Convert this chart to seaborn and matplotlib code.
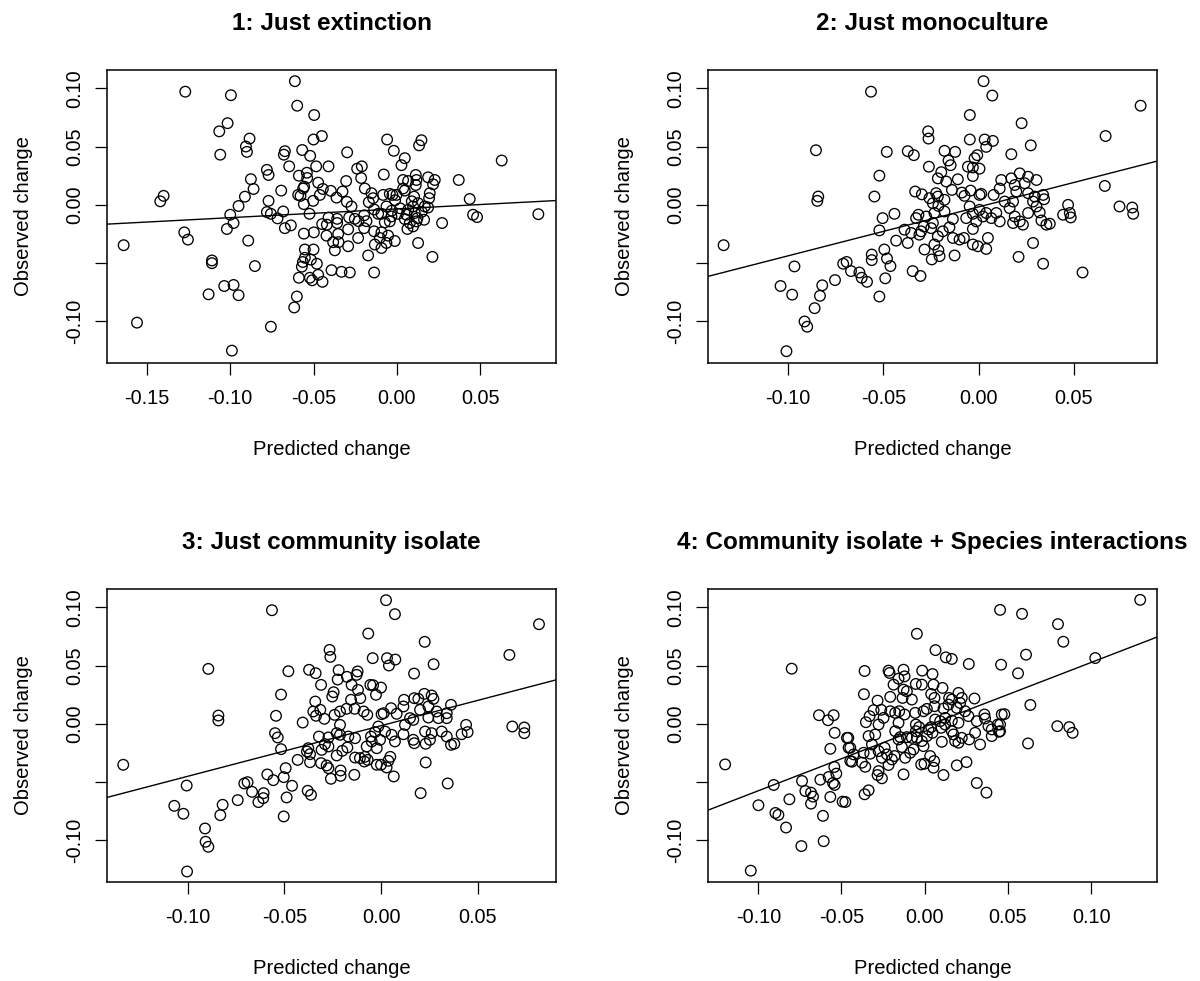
import matplotlib
matplotlib.use("Agg")
import matplotlib.pyplot as plt
import seaborn as sns
import pandas as pd

# ---------------- data ----------------
titles = ["1: Just extinction", "2: Just monoculture",
          "3: Just community isolate", "4: Community isolate + Species interactions"]
x_label = "Predicted change"
y_label = "Observed change"

p1 = [(-0.127, 0.097), (-0.0996, 0.094), (-0.1016, 0.070), (-0.1066, 0.063), (-0.106, 0.043),
      (-0.140, 0.0077), (-0.142, 0.003), (-0.095, -0.001), (-0.100, -0.0085), (-0.098, -0.0156),
      (-0.102, -0.0207), (-0.1276, -0.0236), (-0.1254, -0.0298), (-0.164, -0.0346), (-0.111, -0.0477),
      (-0.111, -0.050), (-0.1036, -0.0696), (-0.098, -0.0687), (-0.113, -0.0767), (-0.095, -0.0775),
      (-0.156, -0.101), (-0.099, -0.125),
      (-0.0612, 0.106), (-0.0598, 0.085), (-0.0496, 0.077), (-0.0884, 0.0568), (-0.0906, 0.050),
      (-0.090, 0.0454), (-0.050, 0.056), (-0.045, 0.059), (-0.0672, 0.046), (-0.0678, 0.043),
      (-0.0568, 0.047), (-0.052, 0.042), (-0.0298, 0.045), (-0.0646, 0.033), (-0.078, 0.030),
      (-0.077, 0.0256), (-0.0484, 0.033), (-0.041, 0.033), (-0.0238, 0.031), (-0.021, 0.033),
      (-0.0214, 0.023), (-0.0588, 0.025), (-0.054, 0.0275), (-0.0538, 0.023), (-0.0876, 0.022),
      (-0.0304, 0.0204), (-0.0472, 0.019), (-0.0556, 0.0156), (-0.086, 0.0136), (-0.0694, 0.0122),
      (-0.0562, 0.014), (-0.0444, 0.0136), (-0.0396, 0.012), (-0.0326, 0.0114), (-0.0192, 0.014),
      (-0.0912, 0.007), (-0.0592, 0.0085), (-0.0578, 0.0077), (-0.0462, 0.0085), (-0.0502, 0.0034),
      (-0.0558, 0.0006), (-0.0362, 0.0062), (-0.077, 0.0034), (-0.030, 0.0026), (-0.0152, 0.010),
      (-0.0142, 0.0057), (-0.0168, 0.0023), (-0.0272, -0.0014), (-0.078, -0.0062), (-0.0756, -0.0077),
      (-0.0716, -0.0116), (-0.0682, -0.0057), (-0.0524, -0.0077), (-0.0672, -0.020), (-0.0636, -0.0176),
      (-0.0448, -0.0165), (-0.042, -0.017), (-0.041, -0.011), (-0.0358, -0.012), (-0.0358, -0.0156),
      (-0.0286, -0.0108), (-0.0252, -0.012), (-0.023, -0.014), (-0.0196, -0.009), (-0.0182, -0.014),
      (-0.0136, -0.004), (-0.0112, -0.0077), (-0.0292, -0.021), (-0.0196, -0.020), (-0.0498, -0.0236),
      (-0.0558, -0.0247), (-0.0422, -0.0264), (-0.0352, -0.025), (-0.0382, -0.032), (-0.035, -0.032),
      (-0.0372, -0.039), (-0.0292, -0.0355), (-0.0232, -0.0284), (-0.0136, -0.0227), (-0.0132, -0.034),
      (-0.0172, -0.0434), (-0.0892, -0.0307), (-0.0852, -0.0525), (-0.0552, -0.0383), (-0.050, -0.0383),
      (-0.0552, -0.0454), (-0.0564, -0.049), (-0.0516, -0.047), (-0.048, -0.0505), (-0.057, -0.053),
      (-0.0588, -0.0625), (-0.0522, -0.0625), (-0.0508, -0.0647), (-0.0472, -0.060), (-0.0446, -0.066),
      (-0.0392, -0.056), (-0.0332, -0.0574), (-0.0282, -0.058), (-0.0136, -0.058), (-0.060, -0.0786),
      (-0.0616, -0.088), (-0.0756, -0.1045),
      (-0.0058, 0.056), (0.0148, 0.0554), (0.0134, 0.051), (-0.0018, 0.0463), (0.0048, 0.040),
      (0.0028, 0.034), (0.063, 0.038), (-0.0078, 0.026), (0.0038, 0.0213), (0.0068, 0.0204),
      (0.0114, 0.0256), (0.0118, 0.0213), (0.0188, 0.0236), (0.0228, 0.0213), (0.0218, 0.0176),
      (0.0372, 0.0213), (0.0114, 0.017), (0.0038, 0.014), (0.0048, 0.0122), (-0.0042, 0.0094),
      (-0.0026, 0.0085), (-0.0002, 0.0085), (-0.0082, 0.0085), (0.0198, 0.010), (0.0194, 0.0057),
      (0.0104, 0.007), (0.0438, 0.005), (0.0188, -0.0023), (0.0168, -0.0014), (0.0128, 0.0014),
      (0.0098, -0.0014), (0.0068, -0.0043), (-0.0062, -0.0014), (-0.0092, -0.0077), (-0.0032, -0.010),
      (0.0008, -0.0077), (0.0058, -0.0085), (0.0048, -0.0122), (0.0108, -0.007), (0.0124, -0.0114),
      (0.0164, -0.0128), (0.0078, -0.0156), (0.0098, -0.0185), (0.0064, -0.0207), (0.0118, -0.0142),
      (-0.0042, -0.0142), (-0.0072, -0.015), (0.0458, -0.0085), (0.0482, -0.0105), (0.0272, -0.0156),
      (-0.0092, -0.0236), (-0.0102, -0.0284), (-0.0052, -0.0264), (-0.0012, -0.031), (-0.0062, -0.0327),
      (-0.0092, -0.037), (0.0128, -0.0327), (0.0214, -0.0446), (0.085, -0.008),
      (-0.0030, -0.0050), (0.0020, -0.0030), (0.0150, -0.0060), (-0.0010, 0.0040), (0.0090, 0.0030)]

p2 = [(-0.0854, 0.0468), (-0.0842, 0.0071), (-0.0847, 0.0034), (-0.1339, -0.0346), (-0.0967, -0.0528),
      (-0.0711, -0.0505), (-0.0693, -0.049), (-0.0754, -0.0645), (-0.0821, -0.069),
      (-0.104, -0.0696), (-0.0979, -0.077), (-0.0833, -0.078), (-0.0861, -0.0886), (-0.0914, -0.100),
      (-0.090, -0.1045), (-0.1009, -0.1255),
      (0.0026, 0.106), (0.0072, 0.0937), (-0.0565, 0.097), (-0.0046, 0.077), (-0.0265, 0.063),
      (-0.0263, 0.0568), (-0.0046, 0.056), (0.0032, 0.056), (0.0075, 0.0548), (0.004, 0.0497),
      (-0.0482, 0.0454), (-0.0372, 0.046), (-0.034, 0.0426), (-0.0179, 0.0463), (-0.0123, 0.0454),
      (-0.0007, 0.0426), (-0.0021, 0.040), (-0.0158, 0.038), (-0.0147, 0.034), (-0.0261, 0.0327),
      (-0.0056, 0.0327), (-0.003, 0.032), (0.0005, 0.031), (-0.0521, 0.025), (-0.0196, 0.028),
      (-0.0214, 0.0227), (-0.0109, 0.0219), (-0.003, 0.0247), (-0.017, 0.020), (0.0119, 0.0213),
      (-0.0547, 0.0071), (-0.0333, 0.0114), (-0.0298, 0.009), (-0.0223, 0.010), (-0.0214, 0.0071),
      (-0.014, 0.0128), (-0.0088, 0.0105), (-0.0074, 0.0077), (-0.0042, 0.0122), (0.0005, 0.0085),
      (0.0014, 0.0094), (0.0079, 0.0085), (0.0111, 0.014), (-0.0258, 0.0057), (-0.024, 0.0014),
      (-0.0179, 0.0043), (-0.0211, -0.0009), (-0.0442, -0.0077), (-0.0504, -0.0114), (-0.0521, -0.0219),
      (-0.0316, -0.0085), (-0.0328, -0.0114), (-0.0275, -0.010), (-0.0232, -0.007), (-0.0179, -0.0057),
      (-0.0135, -0.0122), (-0.0047, -0.0014), (-0.003, -0.0077), (0.0005, -0.0043), (0.0023, -0.010),
      (0.004, -0.007), (0.0067, -0.0114), (0.0093, -0.007), (0.0111, -0.0142), (-0.0065, -0.0114),
      (-0.0012, -0.0142), (-0.003, -0.0207), (-0.0389, -0.0213), (-0.0354, -0.0241), (-0.0372, -0.0327),
      (-0.0433, -0.0307), (-0.0311, -0.0256), (-0.0288, -0.0185), (-0.0249, -0.020), (-0.024, -0.0156),
      (-0.0214, -0.027), (-0.0188, -0.0227), (-0.0232, -0.034), (-0.0284, -0.0383), (-0.0211, -0.039),
      (-0.0246, -0.0468), (-0.0205, -0.044), (-0.0153, -0.0193), (-0.0135, -0.0284), (-0.010, -0.0298),
      (-0.0077, -0.0284), (-0.0126, -0.0434), (-0.003, -0.034), (-0.0004, -0.0355), (0.004, -0.0378),
      (0.0049, -0.0284), (-0.0302, -0.0227), (-0.0561, -0.0426), (-0.0561, -0.0474), (-0.0495, -0.0383),
      (-0.0481, -0.046), (-0.0463, -0.0525), (-0.049, -0.063), (-0.0521, -0.0786), (-0.0346, -0.0568),
      (-0.0305, -0.061), (-0.067, -0.0568), (-0.0626, -0.058), (-0.0614, -0.0625), (-0.0586, -0.066),
      (0.0851, 0.085), (0.0667, 0.059), (0.0226, 0.070), (0.0274, 0.051), (0.0172, 0.0434),
      (0.0663, 0.0162), (0.0172, 0.0227), (0.0216, 0.027), (0.026, 0.0241), (0.0304, 0.0213),
      (0.019, 0.017), (0.0242, 0.0185), (0.0198, 0.0114), (0.026, 0.010), (0.0339, 0.0085),
      (0.0295, 0.0071), (0.0344, 0.0048), (0.0137, 0.0028), (0.0181, 0.0028), (0.0286, 0.0028),
      (0.0304, -0.0014), (0.0163, -0.0028), (0.047, 0.0), (0.0444, -0.0085), (0.0479, -0.007),
      (0.0484, -0.0108), (0.074, -0.0014), (0.0807, -0.0023), (0.0812, -0.0077), (0.026, -0.007),
      (0.0321, -0.0065), (0.033, -0.0134), (0.0356, -0.017), (0.0374, -0.0162), (0.019, -0.010),
      (0.0216, -0.0142), (0.0233, -0.017), (0.0181, -0.0156), (0.0286, -0.0327), (0.021, -0.0446),
      (0.0339, -0.0505), (0.0546, -0.058)]

p3 = [(0.0026, 0.106), (0.0072, 0.094), (-0.0564, 0.0974), (0.0817, 0.0854), (-0.0066, 0.0774),
      (0.0226, 0.0703), (0.0664, 0.0591), (-0.0266, 0.0634), (-0.0262, 0.0574), (-0.0043, 0.0563),
      (0.0031, 0.0563), (0.0074, 0.0551), (0.0041, 0.050), (0.0272, 0.0511), (-0.0893, 0.0471),
      (-0.0479, 0.0451), (-0.0372, 0.0463), (-0.0338, 0.0434), (-0.0219, 0.046), (-0.0121, 0.0449),
      (-0.0126, 0.042), (0.0171, 0.0431), (-0.0224, 0.038), (-0.0176, 0.0403), (-0.0152, 0.0334),
      (-0.031, 0.0334), (-0.0245, 0.0271), (-0.0252, 0.0234), (-0.0119, 0.0291), (-0.0107, 0.022),
      (-0.0055, 0.0334), (-0.0041, 0.0331), (0.0, 0.0311), (-0.0026, 0.0249), (-0.0155, 0.0206),
      (-0.0517, 0.0251), (-0.0841, 0.0071), (-0.0841, 0.0029), (-0.0543, 0.0069), (-0.034, 0.0191),
      (-0.035, 0.0106), (-0.0336, 0.0069), (-0.0314, 0.012), (-0.0293, 0.0043), (-0.0405, 0.0011),
      (-0.024, 0.0077), (-0.0212, 0.0106), (-0.0178, 0.0129), (-0.0136, 0.0129), (-0.009, 0.0106),
      (-0.0071, 0.0077), (-0.0212, -0.0009), (0.0003, 0.0083), (0.0014, 0.0091), (0.0052, 0.0134),
      (0.0081, 0.0086), (0.0116, 0.0149), (0.0119, 0.0206), (0.0172, 0.022), (0.0193, 0.0214),
      (0.0224, 0.0257), (0.0262, 0.0243), (0.0271, 0.0214), (0.0245, 0.0149), (0.0202, 0.012),
      (0.0288, 0.0106), (0.034, 0.0091), (0.0362, 0.0163), (0.034, 0.0049), (0.0297, 0.0049),
      (0.0245, 0.0054), (0.0167, 0.0034), (0.015, 0.0049), (0.0124, -0.0009), (0.044, -0.0009),
      (0.0448, -0.0071), (0.0417, -0.0089), (0.0679, -0.0023), (0.0741, -0.0031), (0.0741, -0.008),
      (0.0314, -0.0066), (0.034, -0.0109), (0.0362, -0.018), (0.0379, -0.0171), (0.0262, -0.008),
      (0.0228, -0.0066), (0.0253, -0.0137), (0.0231, -0.0171), (0.0167, -0.0137), (0.0172, -0.0166),
      (0.0116, -0.0089), (0.0072, -0.0151), (0.0055, -0.0094), (0.0021, -0.0066), (-0.0014, -0.0023),
      (-0.0031, -0.0071), (-0.0052, -0.0109), (-0.0048, -0.0151), (-0.0005, -0.0137), (-0.0022, -0.0209),
      (-0.0074, -0.0194), (-0.0134, -0.0123), (-0.0169, -0.0109), (-0.0212, -0.0094), (-0.0229, -0.008),
      (-0.0272, -0.0117), (-0.0321, -0.0109), (-0.029, -0.0174), (-0.0307, -0.0223), (-0.0272, -0.0194),
      (-0.0229, -0.0271), (-0.020, -0.0231), (-0.0174, -0.0203), (-0.0376, -0.0209), (-0.0367, -0.026),
      (-0.0367, -0.0329), (-0.0431, -0.0309), (-0.031, -0.0337), (-0.0281, -0.0357), (-0.0272, -0.038),
      (-0.0259, -0.0471), (-0.0209, -0.040), (-0.0209, -0.0446), (-0.0138, -0.0437), (-0.0134, -0.0289),
      (-0.0109, -0.0294), (-0.0083, -0.0283), (-0.0069, -0.0309), (-0.0086, -0.0323), (-0.0022, -0.0351),
      (0.0, -0.0351), (0.0029, -0.0374), (0.0048, -0.0283), (0.0038, -0.0317), (0.0066, -0.0451),
      (0.0231, -0.0331), (0.0345, -0.0511), (0.0205, -0.0594), (-0.1333, -0.0351), (-0.1005, -0.0529),
      (-0.1069, -0.0703), (-0.1022, -0.0771), (-0.0819, -0.0694), (-0.0831, -0.0783), (-0.091, -0.0897),
      (-0.0907, -0.1011), (-0.0893, -0.1054), (-0.1003, -0.1266), (-0.0741, -0.0654), (-0.0707, -0.0511),
      (-0.069, -0.050), (-0.0667, -0.0583), (-0.0634, -0.0671), (-0.0607, -0.0594), (-0.0609, -0.0637),
      (-0.0588, -0.0434), (-0.0557, -0.0483), (-0.0503, -0.0457), (-0.0493, -0.038), (-0.046, -0.0531),
      (-0.0488, -0.0631), (-0.0503, -0.0794), (-0.0548, -0.008), (-0.0534, -0.0117), (-0.0517, -0.0217),
      (-0.0379, -0.0574), (-0.0362, -0.0609), (-0.0383, -0.0237)]

p4 = [(-0.0799, 0.0473), (-0.1199, -0.0348), (-0.0635, 0.0074), (-0.0581, 0.0031), (-0.0547, 0.0074),
      (-0.0541, -0.0077), (-0.0467, -0.012), (-0.0457, -0.0205), (-0.0567, -0.0214), (-0.0447, -0.0319),
      (-0.0543, -0.037), (-0.0531, -0.0427), (-0.0577, -0.0456), (-0.0551, -0.0507), (-0.0541, -0.0524),
      (-0.0627, -0.0479), (-0.0567, -0.0627), (-0.0493, -0.0667), (-0.0611, -0.0789), (-0.0607, -0.1006),
      (-0.0737, -0.049), (-0.0717, -0.0576), (-0.0683, -0.059), (-0.0671, -0.0624), (-0.0683, -0.0684),
      (-0.0907, -0.0524), (-0.0813, -0.0647), (-0.0999, -0.0698), (-0.0897, -0.0764), (-0.0879, -0.0781),
      (-0.0833, -0.0889), (-0.0741, -0.1048), (-0.1045, -0.1259),
      (0.1295, 0.1063), (0.0585, 0.0943), (0.0801, 0.0855), (0.0833, 0.0704), (0.0609, 0.0593),
      (0.1025, 0.0564), (0.0453, 0.0977), (0.0459, 0.0507), (0.0561, 0.0433), (0.0635, 0.0162),
      (0.0479, 0.0083), (0.0453, -0.0006), (0.0453, -0.0063), (0.0797, -0.002), (0.0869, -0.0028),
      (0.0889, -0.0077), (0.0621, -0.0168),
      (-0.0047, 0.0772), (0.0065, 0.0632), (0.0127, 0.057), (0.0163, 0.0556),
      (0.0265, 0.0513), (-0.0361, 0.0453), (-0.0217, 0.0456), (-0.0211, 0.0436),
      (-0.0127, 0.0464), (-0.0015, 0.0456), (0.0047, 0.0427), (-0.0157, 0.0387), (-0.0121, 0.0407),
      (-0.0187, 0.0336), (-0.0053, 0.0342), (-0.0017, 0.0336), (0.0053, 0.0336), (0.0107, 0.0308),
      (-0.0365, 0.0254), (-0.0207, 0.0231), (-0.0127, 0.0293), (-0.0107, 0.0279), (-0.0133, 0.0222),
      (-0.0077, 0.0208), (0.0039, 0.0256), (0.0059, 0.0222), (0.0147, 0.0222), (0.0203, 0.0265),
      (0.0223, 0.0222), (0.0299, 0.0217), (-0.0283, 0.0199), (-0.0307, 0.0117), (-0.0331, 0.0066),
      (-0.0353, 0.0014), (-0.0261, 0.012), (-0.0247, 0.0051), (-0.0277, -0.0006), (-0.0207, 0.0108),
      (-0.0177, 0.0094), (-0.0153, 0.0108), (-0.0121, 0.008), (-0.0157, 0.0009), (-0.0057, 0.0094),
      (-0.0007, 0.0108), (0.0013, 0.0128), (-0.0053, -0.0006), (0.0059, 0.0151), (0.0113, 0.0131),
      (0.0143, 0.0165), (0.0163, 0.0208), (0.0193, 0.0137), (0.0213, 0.0179), (0.0243, 0.0108),
      (0.0263, 0.0066), (0.0063, 0.0037), (0.0093, 0.0023), (0.0123, 0.0051), (0.0163, 0.0028),
      (0.0203, 0.0009), (0.0313, 0.0023), (0.0359, 0.008), (0.0363, 0.0046), (0.0383, -0.002),
      (0.0403, -0.0048), (0.0439, -0.0006), (0.0447, -0.0068), (0.0463, 0.008), (0.0403, -0.0105),
      (-0.0459, -0.012), (-0.0447, -0.0205), (-0.0427, -0.0262), (-0.0437, -0.0325), (-0.0377, -0.0333),
      (-0.0357, -0.0368), (-0.0367, -0.0248), (-0.0337, -0.0105), (-0.0297, -0.0091), (-0.0317, -0.0177),
      (-0.0327, -0.0256), (-0.0277, -0.0234), (-0.0277, -0.0405), (-0.0283, -0.0439), (-0.0257, -0.0467),
      (-0.0241, -0.0205), (-0.0227, -0.0262), (-0.0217, -0.0353), (-0.0197, -0.0305), (-0.0181, -0.0276),
      (-0.0177, -0.0063), (-0.0157, -0.0134), (-0.0137, -0.0199), (-0.0147, -0.0114), (-0.0117, -0.0291),
      (-0.0127, -0.0433), (-0.0107, -0.0114), (-0.0077, -0.012), (-0.0053, -0.0063), (-0.0033, -0.0028),
      (-0.0047, -0.012), (-0.0017, -0.0148), (0.0013, -0.0105), (0.0023, -0.0048), (0.0039, -0.0028),
      (-0.0007, -0.0191), (-0.0021, -0.0348), (-0.0001, -0.0342), (0.0033, -0.0276), (0.0057, -0.0319),
      (0.0053, -0.0376), (0.0103, -0.0154), (0.0099, -0.0034), (0.0113, -0.0439), (0.0173, -0.0091),
      (0.0163, -0.0063), (0.0183, -0.0148), (0.0203, -0.0162), (0.0223, -0.012), (0.0267, -0.0134),
      (0.0303, -0.0077), (0.0333, -0.0177), (0.0193, -0.0356), (0.0251, -0.0328), (0.0313, -0.0507),
      (0.0371, -0.059), (-0.0361, -0.0604), (-0.0337, -0.057), (-0.0477, -0.067), (-0.0257, -0.0291),
      (-0.0087, -0.0248), (-0.0067, -0.0219), (0.0123, -0.0006), (0.0047, -0.0077)]

# fitted regression lines (intercept, slope)
fit_intercepts = [-0.0035, -0.0018, -0.0016, -0.0024]
fit_slopes = [0.075, 0.419, 0.434, 0.55]

# axis ranges (R style, data range + 4 %)
x_limits = [(-0.174, 0.0956), (-0.1421, 0.0937), (-0.1417, 0.0905), (-0.1302, 0.1396)]
y_limits = (-0.1356, 0.1156)
x_ticks = [[-0.15, -0.10, -0.05, 0.00, 0.05],
           [-0.10, -0.05, 0.00, 0.05],
           [-0.10, -0.05, 0.00, 0.05],
           [-0.10, -0.05, 0.00, 0.05, 0.10]]
y_ticks = [-0.10, -0.05, 0.00, 0.05, 0.10]
y_ticklabels = ["-0.10", "", "0.00", "0.05", "0.10"]

panels = [p1, p2, p3, p4]

# ---------------- style ----------------
sns.set_style("ticks")
plt.rcParams["font.family"] = ["Liberation Sans", "DejaVu Sans"]
plt.rcParams["axes.linewidth"] = 1.1
plt.rcParams["text.color"] = "black"
plt.rcParams["axes.labelcolor"] = "black"
plt.rcParams["xtick.color"] = "black"
plt.rcParams["ytick.color"] = "black"

W, H = 1200, 981
fig = plt.figure(figsize=(W / 100, H / 100), dpi=100)

# box geometry in pixels (left, top) for each panel
box_w, box_h = 449, 293
box_pos = [(107, 70), (708, 70), (107, 589), (708, 589)]

for i, pts in enumerate(panels):
    left, top = box_pos[i]
    ax = fig.add_axes([left / W, 1 - (top + box_h) / H, box_w / W, box_h / H])
    df = pd.DataFrame(pts, columns=["predicted", "observed"])
    sns.scatterplot(data=df, x="predicted", y="observed", ax=ax, marker="o", s=58,
                    facecolors="none", edgecolor="black", linewidth=0.95, zorder=3)
    ax.axline((0, fit_intercepts[i]), slope=fit_slopes[i], color="black", lw=1.0, zorder=2)
    ax.set_xlim(*x_limits[i])
    ax.set_ylim(*y_limits)
    ax.set_xticks(x_ticks[i])
    ax.set_xticklabels([f"{v:.2f}" for v in x_ticks[i]])
    ax.set_yticks(y_ticks)
    ax.set_yticklabels(y_ticklabels, rotation=90, va="center")
    ax.tick_params(axis="both", direction="out", length=8.5, width=0.9, labelsize=14.3,
                   colors="black", labelcolor="black")
    ax.tick_params(axis="x", pad=10)
    ax.tick_params(axis="y", pad=8)
    for sp in ax.spines.values():
        sp.set_visible(True)
        sp.set_color("black")
        sp.set_linewidth(1.1)
    ax.set_xlabel("")
    ax.set_ylabel("")
    ax.text(0.5, -87 / box_h, x_label, transform=ax.transAxes, ha="center", va="center",
            fontsize=14.6, color="black")
    ax.text(-83 / box_w, 0.5, y_label, transform=ax.transAxes, ha="center", va="center",
            rotation=90, fontsize=14.6, color="black")
    ax.text(0.5, 1 + 40 / box_h, titles[i], transform=ax.transAxes, ha="center",
            va="baseline", fontsize=17.5, fontweight="bold", color="black")
    ax.grid(False)

fig.savefig("out.png", dpi=100, facecolor="white")
